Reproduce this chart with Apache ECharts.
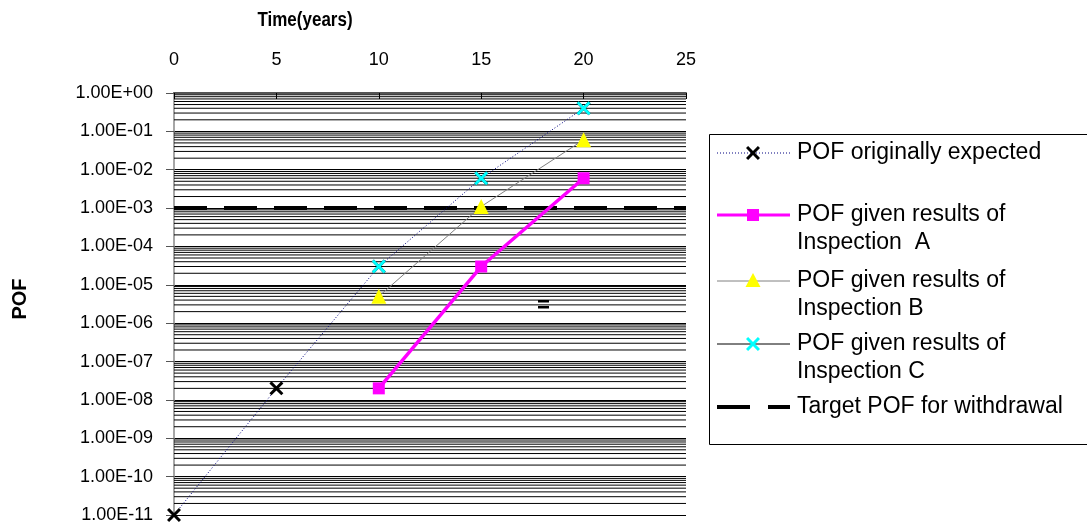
<!DOCTYPE html>
<html>
<head>
<meta charset="utf-8">
<script src="https://cdn.jsdelivr.net/npm/echarts@6/dist/echarts.min.js"></script>
<style>html,body{margin:0;padding:0;background:#fff;}#c{width:1087px;height:531px;}</style>
</head>
<body>
<div id="c"></div>
<script>
// ---- data ----
const expectedYears = [0, 5, 10, 15, 20];
const pofExpected = [1e-11, 2e-8, 3e-5, 6e-3, 0.4];
const inspYears = [10, 15, 20];
const pofA = [2e-8, 3e-5, 6e-3];
const pofB = [5e-6, 1.1e-3, 6e-2];
const pofC = [3e-5, 6e-3, 0.4];
const targetYears = [0, 25];
const targetPOF = [1e-3, 1e-3];
const seriesNames = [
  'POF originally expected',
  'POF given results of\nInspection  A',
  'POF given results of\nInspection B',
  'POF given results of\nInspection C',
  'Target POF for withdrawal'
];
const xTitle = 'Time(years)';
const yTitle = 'POF';

const FONT = "'Liberation Sans', Arial, sans-serif";
const X_PATH = 'path://M0,1.5 L1.5,0 L5,3.5 L8.5,0 L10,1.5 L6.5,5 L10,8.5 L8.5,10 L5,6.5 L1.5,10 L0,8.5 L3.5,5 Z';
const X_PTS = [[0,1.5],[1.5,0],[5,3.5],[8.5,0],[10,1.5],[6.5,5],[10,8.5],[8.5,10],[5,6.5],[1.5,10],[0,8.5],[3.5,5]];

function pairs(xs, ys) { return xs.map((x, i) => [x, ys[i]]); }

// minor log gridlines (2..9 within each decade)
const minorLines = [];
for (let d = -11; d < 0; d++) {
  for (let k = 2; k <= 9; k++) minorLines.push([0, k * Math.pow(10, d)]);
}

function expLabel(v) {
  const e = Math.round(Math.log10(v));
  const a = Math.abs(e);
  return '1.00E' + (e >= 0 ? '+' : '-') + (a < 10 ? '0' + a : '' + a);
}

const chart = echarts.init(document.getElementById('c'), null, { renderer: 'canvas' });

// custom legend
const LX0 = 717, LX1 = 790, LMID = 753, TX = 797;
const legendRows = [153, 215, 281, 344, 407];
const legendG = [];
function xMark(cx, cy, size, fill) {
  const s = size / 10;
  return { type: 'polygon', shape: { points: X_PTS.map(p => [cx - size / 2 + p[0] * s, cy - size / 2 + p[1] * s]) },
    style: { fill: fill }, z: 12 };
}
legendG.push({ type: 'rect', shape: { x: 709.5, y: 134.5, width: 400, height: 310 },
  style: { fill: '#fff', stroke: '#000', lineWidth: 1 }, z: 10 });
function lineEl(y, stroke, w, dash) {
  return { type: 'line', shape: { x1: LX0, y1: y, x2: LX1, y2: y },
    style: { stroke: stroke, lineWidth: w, lineDash: dash || null }, z: 11 };
}
function textEl(y, txt, va) {
  return { type: 'text', x: TX, y: y, style: { text: txt, font: '23px ' + FONT, fill: '#000',
    verticalAlign: va || 'middle', lineHeight: 27.5 }, z: 11 };
}
// row 1
legendG.push(lineEl(legendRows[0], '#000080', 1, [1, 2]));
legendG.push(xMark(LMID, legendRows[0], 14, '#000'));
legendG.push(textEl(legendRows[0], seriesNames[0]));
// row 2
legendG.push(lineEl(legendRows[1], '#FF00FF', 3));
legendG.push({ type: 'rect', shape: { x: LMID - 6, y: legendRows[1] - 6, width: 12, height: 12 }, style: { fill: '#FF00FF' }, z: 12 });
legendG.push(textEl(legendRows[1] - 13.75, seriesNames[1], 'top'));
// row 3
legendG.push(lineEl(legendRows[2], '#808080', 1));
legendG.push({ type: 'polygon', shape: { points: [[LMID, legendRows[2] - 8], [LMID + 7.5, legendRows[2] + 6], [LMID - 7.5, legendRows[2] + 6]] }, style: { fill: '#FFFF00' }, z: 12 });
legendG.push(textEl(legendRows[2] - 13.75, seriesNames[2], 'top'));
// row 4
legendG.push(lineEl(legendRows[3], '#000', 1));
legendG.push(xMark(LMID, legendRows[3], 14, '#00FFFF'));
legendG.push(textEl(legendRows[3] - 13.75, seriesNames[3], 'top'));
// row 5
legendG.push({ type: 'line', shape: { x1: LX0, y1: legendRows[4], x2: 750, y2: legendRows[4] }, style: { stroke: '#000', lineWidth: 4 }, z: 11 });
legendG.push({ type: 'line', shape: { x1: 768, y1: legendRows[4], x2: LX1, y2: legendRows[4] }, style: { stroke: '#000', lineWidth: 4 }, z: 11 });
legendG.push(textEl(legendRows[4], seriesNames[4]));

const option = {
  animation: false,
  backgroundColor: '#fff',
  grid: { left: 174, right: 401, top: 93, bottom: 16 },
  xAxis: {
    type: 'value', position: 'top', min: 0, max: 25, interval: 5,
    axisLine: { show: true, lineStyle: { color: '#555', width: 2 } },
    axisTick: { show: true, inside: true, length: 6, lineStyle: { color: '#000' } },
    axisLabel: { fontFamily: FONT, fontSize: 18, color: '#000', margin: 24 },
    splitLine: { show: false }
  },
  yAxis: {
    type: 'log', logBase: 10, min: 1e-11, max: 1, interval: 1,
    axisLine: { show: true, lineStyle: { color: '#888', width: 1.5 } },
    axisTick: { show: true, inside: false, length: 8, lineStyle: { color: '#555' } },
    axisLabel: { fontFamily: FONT, fontSize: 18, color: '#000', margin: 21, formatter: expLabel },
    splitLine: { show: true, lineStyle: { color: '#000', width: 1 } },
    minorTick: { show: false }, minorSplitLine: { show: false }
  },
  graphic: [
    { type: 'text', x: 305, y: 20, scaleX: 0.85, originX: 0, style: { text: xTitle, font: 'bold 20px ' + FONT, fill: '#000', align: 'center', verticalAlign: 'middle' } },
    { type: 'text', x: 20, y: 299, rotation: Math.PI / 2, style: { text: yTitle, font: 'bold 20px ' + FONT, fill: '#000', align: 'center', verticalAlign: 'middle' } },
    { type: 'rect', shape: { x: 538, y: 300, width: 11, height: 2.5 }, style: { fill: '#000' } },
    { type: 'rect', shape: { x: 538, y: 306, width: 11, height: 2.5 }, style: { fill: '#000' } }
  ].concat(legendG),
  series: [
    {
      name: 'minor', type: 'custom', data: minorLines, silent: true, z: 1,
      encode: { x: 0, y: 1 },
      renderItem: function (params, api) {
        const cs = params.coordSys;
        const y = api.coord([0, api.value(1)])[1];
        return { type: 'line', shape: { x1: cs.x, y1: y, x2: cs.x + cs.width, y2: y },
          style: { stroke: '#000', lineWidth: 1 } };
      }
    },
    {
      name: 'target', type: 'line', data: pairs(targetYears, targetPOF), symbol: 'none', z: 3,
      lineStyle: { color: '#000', width: 4, type: [33, 17], cap: 'butt' }
    },
    {
      name: seriesNames[2], type: 'line', data: pairs(inspYears, pofB), symbol: 'triangle', symbolSize: 15,
      itemStyle: { color: '#FFFF00' }, lineStyle: { color: '#808080', width: 1 }, z: 4
    },
    {
      name: seriesNames[3], type: 'line', data: pairs(inspYears, pofC), symbol: X_PATH, symbolSize: 14,
      itemStyle: { color: '#00FFFF' }, lineStyle: { color: '#000', width: 1, opacity: 0 }, z: 6
    },
    {
      name: seriesNames[0], type: 'line', data: pairs(expectedYears, pofExpected), symbol: X_PATH, symbolSize: 14,
      clip: false, itemStyle: { color: '#000' }, lineStyle: { color: '#000080', width: 1, type: [1, 2] }, z: 5
    },
    {
      name: seriesNames[1], type: 'line', data: pairs(inspYears, pofA), symbol: 'rect', symbolSize: 12,
      itemStyle: { color: '#FF00FF' }, lineStyle: { color: '#FF00FF', width: 3.5 }, z: 7
    }
  ]
};
chart.setOption(option);
</script>
</body>
</html>
